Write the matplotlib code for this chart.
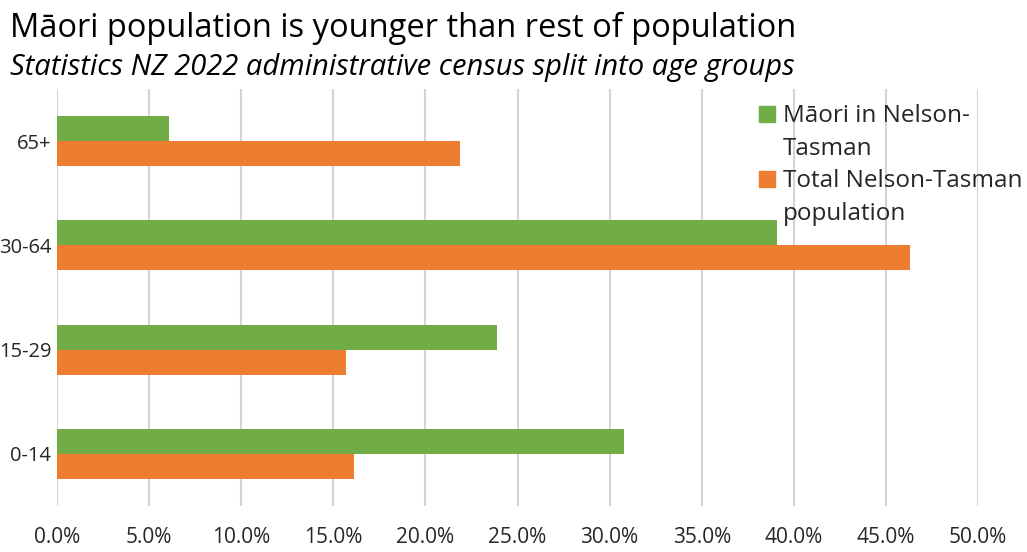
import matplotlib.pyplot as plt
from matplotlib.patches import Rectangle
import numpy as np

# Datos (proporción de la población por grupo de edad)
age_groups = ["0-14", "15-29", "30-64", "65+"]
maori = [0.308, 0.239, 0.391, 0.061]
total = [0.161, 0.157, 0.463, 0.219]
series_names = [["Māori in Nelson-", "Tasman"], ["Total Nelson-Tasman", "population"]]
x_ticks = [0.0, 0.05, 0.10, 0.15, 0.20, 0.25, 0.30, 0.35, 0.40, 0.45, 0.50]

green = "#70AD47"
orange = "#ED7D31"
font = "Open Sans"
txt = "#262626"

W, H = 1027, 552
fig = plt.figure(figsize=(W / 100, H / 100), dpi=100)
ax = fig.add_axes([57 / W, (H - 506) / H, (978 - 57) / W, (506 - 89) / H])

y = np.arange(len(age_groups))
h = 0.24
ax.barh(y + h / 2, maori, height=h, color=green, zorder=2)
ax.barh(y - h / 2, total, height=h, color=orange, zorder=2)

ax.set_ylim(-0.5, len(age_groups) - 0.5)
ax.set_xlim(0, 0.5)
ax.set_xticks(x_ticks)
ax.set_xticklabels([f"{v * 100:.1f}%" for v in x_ticks], fontsize=15,
                   family=font, color=txt)
ax.set_yticks(y)
ax.set_yticklabels(age_groups, fontsize=14.5, family=font, color=txt)
ax.tick_params(axis="both", length=0)
ax.tick_params(axis="x", pad=15)
ax.tick_params(axis="y", pad=4)
ax.grid(axis="x", color="#d4d4d4", linewidth=1.5, zorder=0)
ax.set_axisbelow(True)
for s in ax.spines.values():
    s.set_visible(False)

# Títulos
fig.text(10 / W, 1 - 37 / H, "Māori population is younger than rest of population",
         fontsize=23.5, family=font, va="baseline", ha="left", color="black")
fig.text(10 / W, 1 - 75 / H, "Statistics NZ 2022 administrative census split into age groups",
         fontsize=21, family=font, style="italic", va="baseline", ha="left", color="black")

# Leyenda manual
for i, (lines, c) in enumerate(zip(series_names, [green, orange])):
    base = 122 + i * 65
    fig.patches.append(Rectangle((759 / W, 1 - base / H), 16 / W, 16 / H,
                                 transform=fig.transFigure, color=c))
    for j, line in enumerate(lines):
        fig.text(783 / W, 1 - (base + j * 33) / H, line, fontsize=17.5, family=font,
                 va="baseline", ha="left", color=txt)

fig.savefig("out.png", dpi=100)
